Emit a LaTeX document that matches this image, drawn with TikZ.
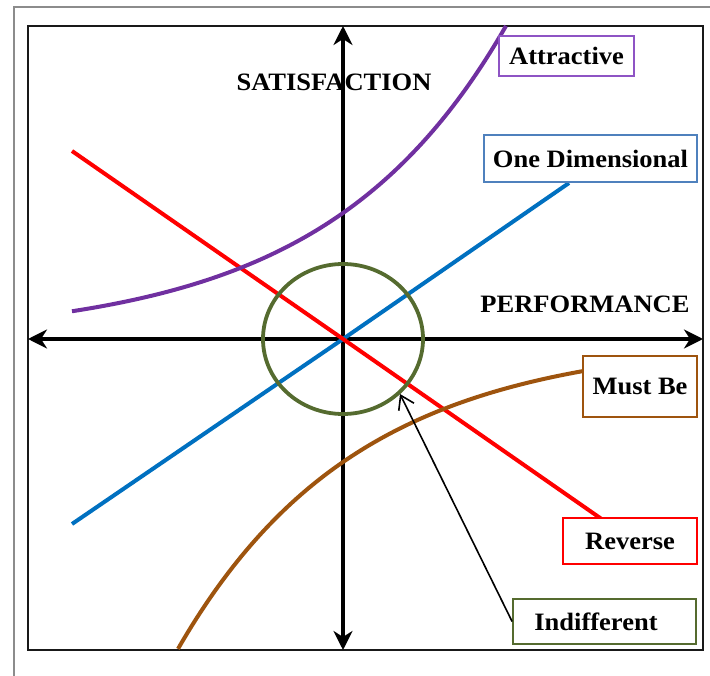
\documentclass[tikz,border=0pt]{standalone}
\usepackage{fontspec}
\setmainfont{Liberation Serif}[FakeStretch=1.06]
\usetikzlibrary{arrows.meta}

\definecolor{attrc}{RGB}{112,48,160}
\definecolor{attrbox}{RGB}{142,84,196}
\definecolor{onedc}{RGB}{0,112,192}
\definecolor{onedbox}{RGB}{79,129,189}
\definecolor{revc}{RGB}{255,0,0}
\definecolor{mustc}{RGB}{158,84,14}
\definecolor{indc}{RGB}{85,107,47}
\definecolor{framegray}{RGB}{140,140,140}

\begin{document}
\begin{tikzpicture}[x=1pt,y=-1pt,
  axis/.style={line width=3.4pt, {Stealth[length=19pt,width=19pt,inset=6pt]}-{Stealth[length=19pt,width=19pt,inset=6pt]}},
  curve/.style={line width=4pt},
  tag/.style={draw, line width=1.8pt, fill=white, inner sep=0pt,
    font=\fontsize{25}{29}\selectfont\bfseries},
  axlabel/.style={inner sep=0pt, font=\fontsize{25}{29}\selectfont\bfseries}]

  \useasboundingbox (0,0) rectangle (710,676);

  % outer and inner frames
  \draw[framegray, line width=2pt] (14,676) -- (14,7) -- (710,7);
  \draw[black!90, line width=2.2pt] (28,26) rectangle (703,650);

  % key points
  \coordinate (O) at (343,339);
  \coordinate (xl) at (28,339);
  \coordinate (xr) at (703,339);
  \coordinate (yt) at (343,26);
  \coordinate (yb) at (343,650);
  \coordinate (b0) at (72,524);
  \coordinate (b1) at (569,183);
  \coordinate (r0) at (72,151);
  \coordinate (r1) at (603,520);
  \coordinate (tip) at (400,394);

  % axes
  \draw[axis] (xl) -- (xr);
  \draw[axis] (yt) -- (yb);

  % characteristic curves
  \draw[curve, onedc] (b0) -- (O) -- (b1);
  \draw[curve, revc] (r0) -- (O) -- (r1);
  \draw[curve, attrc] plot[domain=72:506, samples=90, variable=\t]
    (\t, {339-126*exp(0.005583*(\t-343))});
  \draw[curve, mustc] plot[domain=178:585, samples=90, variable=\t]
    (\t, {339+123*exp(-0.0056*(\t-343))});

  % indifferent zone
  \draw[indc, line width=3.8pt] (O) ellipse [x radius=80, y radius=75];

  % axis labels
  \node[axlabel] (sat) at (334,82) {SATISFACTION};
  \node[axlabel] (perf) at (585,304) {PERFORMANCE};

  % category tags
  \node[tag, draw=attrbox, minimum width=135, minimum height=40] (attr) at (566.5,56) {Attractive};
  \node[tag, draw=onedbox, minimum width=213, minimum height=47] (oned) at (590.5,158.5) {One Dimensional};
  \node[tag, draw=mustc, minimum width=114, minimum height=61] (must) at (640,386.5) {Must Be};
  \node[tag, draw=revc, minimum width=134, minimum height=46] (rev) at (630,541) {Reverse};
  \node[tag, draw=indc, minimum width=183, minimum height=45] (ind) at (604.5,621.5) {Indifferent\hspace*{17pt}};

  % pointer to the indifferent zone
  \draw[line width=1.6pt, -{Straight Barb[length=13pt,width=17pt]}] (ind.west) -- (tip);
\end{tikzpicture}
\end{document}
